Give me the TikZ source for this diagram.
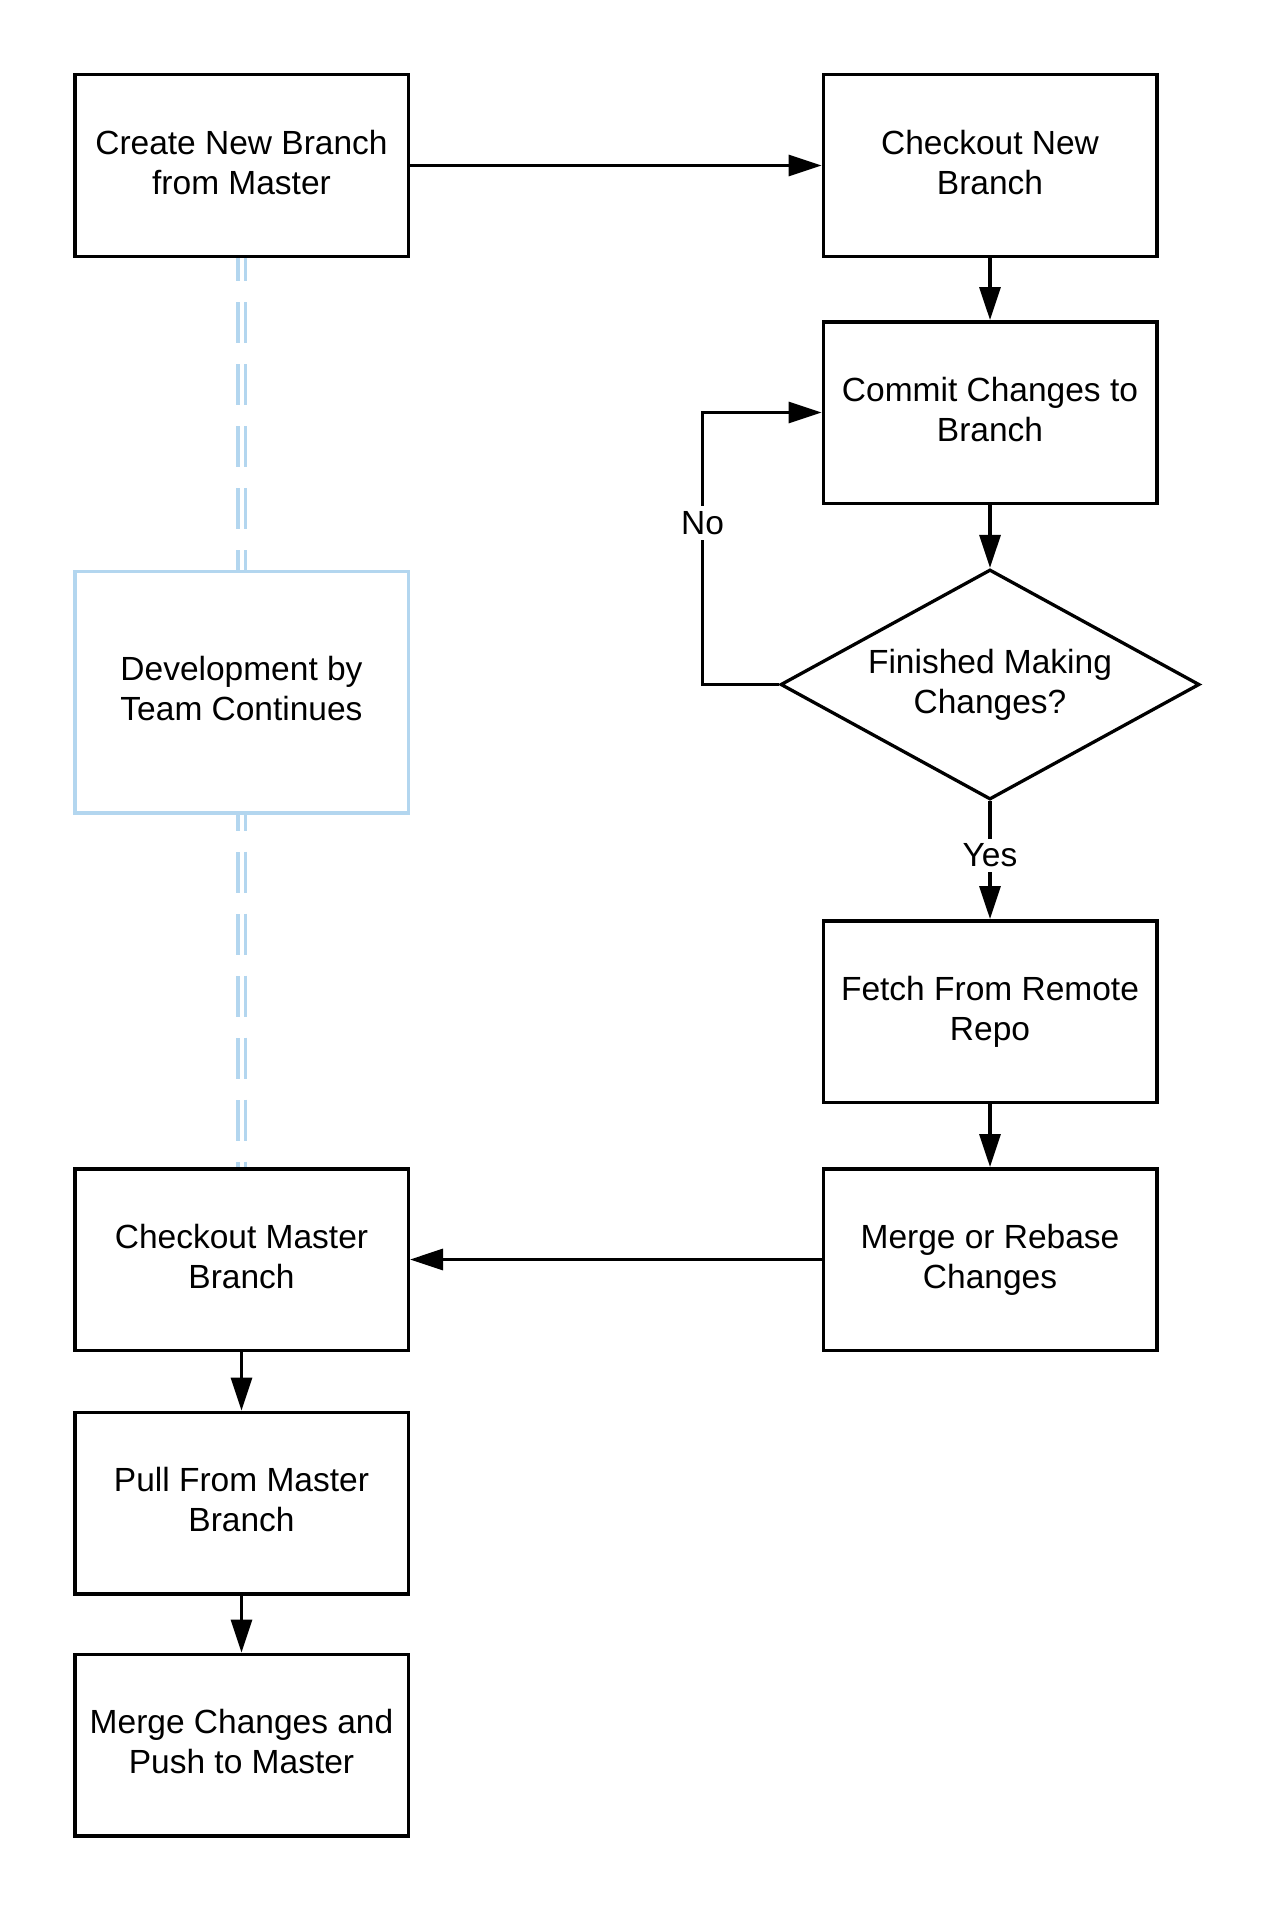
\documentclass[tikz,border=0pt]{standalone}
\usepackage{fontspec}
\setmainfont{Liberation Sans}
\usetikzlibrary{arrows.meta,shapes.geometric}
\definecolor{lblue}{RGB}{179,214,239}
\newcommand\fcstrut{\rule[-7pt]{0pt}{28pt}}
\begin{document}
\begin{tikzpicture}[x=1pt,y=-1pt,
  txt/.style={font=\fontsize{33.5}{40}\selectfont, align=center},
  struts/.style={execute at begin node=\fcstrut, execute at end node=\fcstrut},
  box/.style={txt, struts, draw=black, line width=3.5pt, minimum width=333.5pt, minimum height=181.5pt, inner sep=0pt},
  devbox/.style={txt, struts, draw=lblue, line width=3.5pt, minimum width=333.5pt, minimum height=241.5pt, inner sep=0pt},
  decision/.style={txt, struts, diamond, draw=black, line width=3.3pt, aspect=1.84, inner sep=0pt, minimum width=419pt, minimum height=230pt},
  arr/.style={line width=3.3pt, -{Triangle[length=33pt,width=21pt]}},
  dbl/.style={draw=lblue, line width=3.6pt, double=white, double distance=4pt, dash pattern=on 41pt off 21pt},
  lbl/.style={txt, fill=white, inner sep=5pt}
]
\useasboundingbox (0,0) rectangle (1275,1913);

% left column
\node[box] (create) at (241.5,165.5) {Create New Branch\\from Master};
\node[devbox] (dev) at (241.5,692) {Development by\\Team Continues};
\node[box] (cmaster) at (241.5,1259.5) {Checkout Master\\Branch};
\node[box] (pull) at (241.5,1503) {Pull From Master\\Branch};
\node[box] (push) at (241.5,1745) {Merge Changes and\\Push to Master};

% right column
\node[box] (cnew) at (990,165.5) {Checkout New\\Branch};
\node[box] (commit) at (990,412.5) {Commit Changes to\\Branch};
\node[decision] (dec) at (990,684.5) {Finished Making\\Changes?};
\node[box] (fetch) at (990,1011.5) {Fetch From Remote\\Repo};
\node[box] (merge) at (990,1259.5) {Merge or Rebase\\Changes};

\coordinate (lp) at (702.5,0);

% connectors
\draw[arr] (create.east) -- (cnew.west);
\draw[arr] (cnew.south) -- (commit.north);
\draw[arr] (commit.south) -- (dec.north);
\draw[arr] (dec.west) -- (dec.west -| lp) -- (commit.west -| lp) -- (commit.west);
\draw[arr] (dec.south) -- (fetch.north);
\draw[arr] (fetch.south) -- (merge.north);
\draw[arr] (merge.west) -- (cmaster.east);
\draw[arr] (cmaster.south) -- (pull.north);
\draw[arr] (pull.south) -- (push.north);

% dashed double connectors
\draw[dbl, dash phase=18pt] (create.south) -- (dev.north);
\draw[dbl, dash phase=25pt] (dev.south) -- (cmaster.north);

% labels
\node[lbl] (no) at (702.5,523) {No};
\node[lbl] (yes) at (990,855.5) {Yes};
\end{tikzpicture}
\end{document}
